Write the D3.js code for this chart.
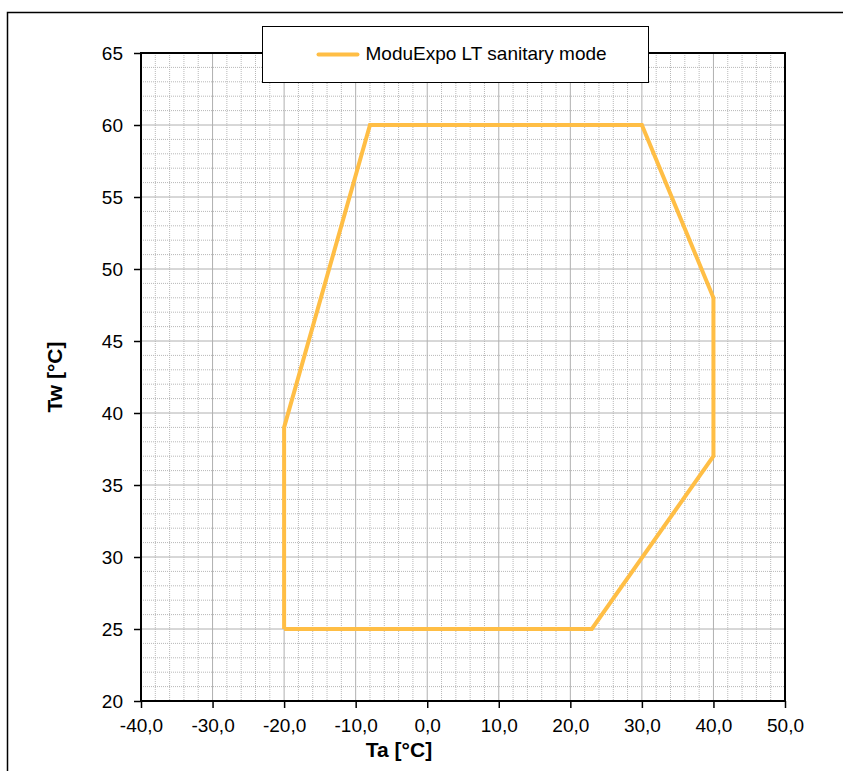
<!DOCTYPE html>
<html lang="en">
<head>
  <meta charset="UTF-8">
  <title>ModuExpo LT sanitary mode</title>
  <script src="https://d3js.org/d3.v7.min.js"></script>
  <style>
    body { margin: 0; background: white; }
    svg text { font-family: 'Liberation Sans', Arial, sans-serif; fill: #000; }
    .tick text { font-size: 19px; }
  </style>
</head>
<body>
  <div id="chart"></div>
  <script>
    const seriesName = "ModuExpo LT sanitary mode";
    const ta = [-20, -20, -8, 30, 40, 40, 23, -20];
    const tw = [25, 39, 60, 60, 48, 37, 25, 25];
    const xTicks = [-40, -30, -20, -10, 0, 10, 20, 30, 40, 50];
    const yTicks = [20, 25, 30, 35, 40, 45, 50, 55, 60, 65];

    const W = 843, H = 771;
    const margin = { top: 53, right: 58, bottom: 70, left: 141 };
    const w = W - margin.left - margin.right, h = H - margin.top - margin.bottom;

    const svg = d3.select("#chart").append("svg")
      .attr("width", W).attr("height", H);

    // outer chart frame
    svg.append("rect")
      .attr("x", 7.5).attr("y", 12.5)
      .attr("width", W + 20).attr("height", H + 20)
      .attr("fill", "none").attr("stroke", "#000").attr("stroke-width", 1.5);

    const g = svg.append("g").attr("transform", `translate(${margin.left},${margin.top})`);

    const x = d3.scaleLinear().domain([-40, 50]).range([0, w]);
    const y = d3.scaleLinear().domain([20, 65]).range([h, 0]);

    // minor grid
    g.append("g").selectAll("line")
      .data(d3.range(-38, 50, 2).filter(v => v % 10 !== 0))
      .join("line")
      .attr("x1", d => x(d)).attr("x2", d => x(d))
      .attr("y1", 0).attr("y2", h)
      .attr("stroke", "#b8b8b8").attr("stroke-dasharray", "1,1");
    g.append("g").selectAll("line")
      .data(d3.range(21, 65, 1).filter(v => v % 5 !== 0))
      .join("line")
      .attr("y1", d => y(d)).attr("y2", d => y(d))
      .attr("x1", 0).attr("x2", w)
      .attr("stroke", "#b8b8b8").attr("stroke-dasharray", "1,1");

    // major grid
    g.append("g").selectAll("line")
      .data(xTicks.slice(1, -1))
      .join("line")
      .attr("x1", d => x(d)).attr("x2", d => x(d))
      .attr("y1", 0).attr("y2", h)
      .attr("stroke", "#b0b0b0").attr("stroke-width", 1);
    g.append("g").selectAll("line")
      .data(yTicks.slice(1, -1))
      .join("line")
      .attr("y1", d => y(d)).attr("y2", d => y(d))
      .attr("x1", 0).attr("x2", w)
      .attr("stroke", "#b0b0b0").attr("stroke-width", 1);

    // axes
    const fmt = d => d3.format(".1f")(d).replace(".", ",").replace("−", "-");
    const xAxis = g.append("g").attr("transform", `translate(0,${h})`)
      .call(d3.axisBottom(x).tickValues(xTicks).tickSize(7).tickPadding(6).tickFormat(fmt));
    const yAxis = g.append("g")
      .call(d3.axisLeft(y).tickValues(yTicks).tickSize(7).tickPadding(11).tickFormat(d3.format("d")));
    [xAxis, yAxis].forEach(a => {
      a.select(".domain").remove();
      a.selectAll(".tick line").attr("stroke", "#000").attr("stroke-width", 1.5);
    });
    xAxis.selectAll(".tick text").attr("dy", "0.95em");

    // plot frame
    g.append("rect")
      .attr("width", w).attr("height", h)
      .attr("fill", "none").attr("stroke", "#000").attr("stroke-width", 2);

    // series
    const pts = ta.map((v, i) => [v, tw[i]]);
    g.append("path")
      .datum(pts)
      .attr("fill", "none")
      .attr("stroke", "#ffbe45")
      .attr("stroke-width", 4)
      .attr("stroke-linejoin", "miter")
      .attr("d", d3.line().x(d => x(d[0])).y(d => y(d[1])));

    // axis titles
    svg.append("text")
      .attr("x", 399).attr("y", 757)
      .attr("text-anchor", "middle")
      .style("font-size", "21px").style("font-weight", "bold")
      .text("Ta [°C]");
    svg.append("text")
      .attr("transform", `translate(62,377) rotate(-90)`)
      .attr("text-anchor", "middle")
      .style("font-size", "21px").style("font-weight", "bold")
      .text("Tw [°C]");

    // legend
    const lg = svg.append("g").attr("transform", "translate(262.5,26.5)");
    lg.append("rect").attr("width", 386).attr("height", 56)
      .attr("fill", "white").attr("stroke", "#000").attr("stroke-width", 1);
    lg.append("line").attr("x1", 56).attr("x2", 95).attr("y1", 28).attr("y2", 28)
      .attr("stroke", "#ffbe45").attr("stroke-width", 4).attr("stroke-linecap", "round");
    lg.append("text").attr("x", 103).attr("y", 33.5)
      .style("font-size", "19px").text(seriesName);
  </script>
</body>
</html>
